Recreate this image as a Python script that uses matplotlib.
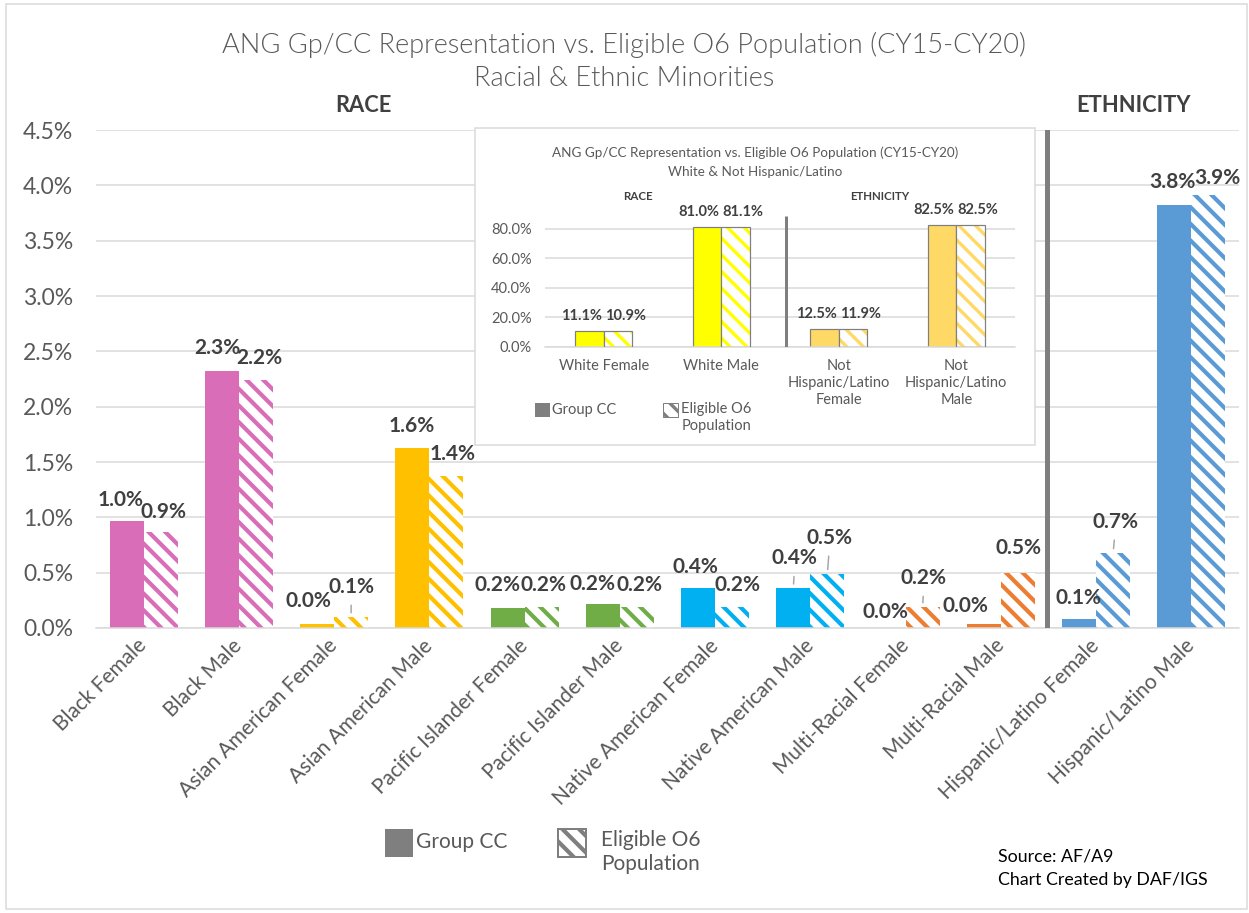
import numpy as np
import matplotlib.pyplot as plt
from matplotlib.patches import Rectangle

plt.rcParams['font.family'] = ['Lato', 'DejaVu Sans']
plt.rcParams['hatch.linewidth'] = 2.0

W, H = 1249, 913
DPI = 150
PT = 72 / DPI  # points per pixel


def fx(x):
    return x / W


def fy(y):
    return 1 - y / H


# --- dati ---
categories = ["Black Female", "Black Male", "Asian American Female",
              "Asian American Male", "Pacific Islander Female",
              "Pacific Islander Male", "Native American Female",
              "Native American Male", "Multi-Racial Female",
              "Multi-Racial Male", "Hispanic/Latino Female",
              "Hispanic/Latino Male"]
group_cc = [0.97, 2.32, 0.04, 1.63, 0.18, 0.22, 0.36, 0.36, 0.00, 0.04, 0.08, 3.82]
eligible = [0.87, 2.24, 0.10, 1.37, 0.19, 0.19, 0.19, 0.49, 0.19, 0.50, 0.68, 3.91]

inset_categories = ["White Female", "White Male",
                    "Not\nHispanic/Latino\nFemale", "Not\nHispanic/Latino\nMale"]
inset_group_cc = [11.1, 81.0, 12.5, 82.5]
inset_eligible = [10.9, 81.1, 11.9, 82.5]

# colori per coppia di categorie
palette = ["#D96DB7", "#FFC000", "#70AD47", "#00B0F0", "#ED7D31", "#5B9BD5"]
colors = [c for c in palette for _ in range(2)]
inset_colors = ["#FFFF00", "#FFFF00", "#FFD966", "#FFD966"]

# spostamento etichette (px) rispetto al centro della barra
cc_off = [(-6, -21), (-4, -23), (-9, -23), (-1, -22), (-10, -23), (-10, -20),
          (-3, -21), (1, -30), (-3, -16), (-18, -18), (-1, -21), (-2, -23)]
el_off = [(3, -20), (3, -22), (0, -30), (6, -22), (2, -22), (3, -22),
          (5, -22), (2, -36), (1, -29), (1, -25), (2, -31), (9, -17)]
cc_leader = [7]
el_leader = [2, 7, 8, 10]

GRID = "#D9D9D9"
TXT = "#595959"
LAB = "#404040"
HATCH = "\\\\\\"

fig = plt.figure(figsize=(W / DPI, H / DPI), dpi=DPI)

# --- grafico principale ---
ax = fig.add_axes([fx(96), fy(628), fx(1239) - fx(96), (628 - 130) / H])
x = np.arange(len(categories))
bw = 0.357
ax.bar(x - bw / 2, group_cc, bw, color=colors, linewidth=0, zorder=2)
ax.bar(x + bw / 2, eligible, bw, color="white", edgecolor=colors,
       hatch=HATCH, linewidth=0, zorder=2)

ax.set_xlim(-0.5, len(categories) - 0.5)
ax.set_ylim(0, 4.5)
yt = np.arange(0, 4.51, 0.5)
ax.set_yticks(yt)
ax.set_yticklabels([f"{v:.1f}%" for v in yt])
ax.yaxis.grid(True, color=GRID, linewidth=1.5 * PT, zorder=0)
ax.set_axisbelow(True)
for s in ["top", "right", "left"]:
    ax.spines[s].set_visible(False)
ax.spines["bottom"].set_color(GRID)
ax.spines["bottom"].set_linewidth(1.5 * PT)
ax.tick_params(axis="both", length=0, labelcolor=TXT)
ax.tick_params(axis="y", pad=11, labelsize=11)
ax.tick_params(axis="x", pad=7, labelsize=10)
ax.set_xticks(x)
ax.set_xticklabels(categories, rotation=45, ha="right", va="center",
                   rotation_mode="anchor")

# separatore razza / etnia
ax.axvline(9.48, color="#7F7F7F", linewidth=5 * PT, zorder=3)


def etichetta(a, xc, val, off, leader, size):
    dx, dy = off
    kw = dict(textcoords="offset points", ha="center", va="center",
              fontsize=size, fontweight="bold", color=LAB, zorder=4)
    if leader:
        kw["arrowprops"] = dict(arrowstyle="-", color="#A6A6A6", lw=1.5 * PT,
                                shrinkA=2, shrinkB=2, relpos=(0.5, 0))
    a.annotate(f"{val:.1f}%", xy=(xc, val), xytext=(dx * PT, -dy * PT), **kw)


for i in range(len(categories)):
    etichetta(ax, x[i] - bw / 2, group_cc[i], cc_off[i], i in cc_leader, 10)
    etichetta(ax, x[i] + bw / 2, eligible[i], el_off[i], i in el_leader, 10)

# --- riquadro interno ---
box = Rectangle((fx(475), fy(445)), (1035 - 475) / W, (445 - 128) / H,
                transform=fig.transFigure, facecolor="white",
                edgecolor=GRID, linewidth=1.5 * PT, zorder=1)
fig.add_artist(box)

axi = fig.add_axes([fx(545), fy(347), (1015 - 545) / W, (347 - 213.8) / H])
axi.set_zorder(2)
axi.patch.set_visible(False)
xi = np.arange(len(inset_categories))
bwi = 0.243
plt.rcParams['hatch.linewidth'] = 1.6
axi.bar(xi - bwi / 2, inset_group_cc, bwi, color=inset_colors,
        edgecolor="#7F7F7F", linewidth=1.2 * PT, zorder=2)
axi.bar(xi + bwi / 2, inset_eligible, bwi, color="white",
        edgecolor=inset_colors, hatch=HATCH, linewidth=0, zorder=2)
axi.bar(xi + bwi / 2, inset_eligible, bwi, fill=False,
        edgecolor="#7F7F7F", linewidth=1.2 * PT, zorder=3)
axi.set_xlim(-0.5, 3.5)
axi.set_ylim(0, 90)
yti = np.arange(0, 81, 20)
axi.set_yticks(yti)
axi.set_yticklabels([f"{v:.1f}%" for v in yti])
axi.yaxis.grid(True, color=GRID, linewidth=1.5 * PT, zorder=0)
axi.set_axisbelow(True)
for s in ["top", "right", "left"]:
    axi.spines[s].set_visible(False)
axi.spines["bottom"].set_color(GRID)
axi.spines["bottom"].set_linewidth(1.5 * PT)
axi.tick_params(axis="both", length=0, labelcolor=TXT, labelsize=7)
axi.tick_params(axis="y", pad=6.5)
axi.tick_params(axis="x", pad=6)
axi.set_xticks(xi)
axi.set_xticklabels(inset_categories, linespacing=1.25)
axi.plot([1.553, 1.553], [0, 88.5], color="#7F7F7F", linewidth=3 * PT,
         solid_capstyle="butt", zorder=3)

for i in range(len(inset_categories)):
    etichetta(axi, xi[i] - bwi / 2, inset_group_cc[i], (-8, -15), False, 7)
    etichetta(axi, xi[i] + bwi / 2, inset_eligible[i], (7, -15), False, 7)

fig.text(fx(755), fy(153), "ANG Gp/CC Representation vs. Eligible O6 Population (CY15-CY20)",
         ha="center", va="center", fontsize=6.5, color=TXT)
fig.text(fx(755), fy(172), "White & Not Hispanic/Latino",
         ha="center", va="center", fontsize=6.5, color=TXT)
fig.text(fx(638), fy(197), "RACE", ha="center", va="center",
         fontsize=5.5, fontweight="bold", color=LAB)
fig.text(fx(880), fy(197), "ETHNICITY", ha="center", va="center",
         fontsize=5.5, fontweight="bold", color=LAB)

# legenda del riquadro
fig.add_artist(Rectangle((fx(535), fy(417)), 15 / W, 14 / H,
                         transform=fig.transFigure, facecolor="#7F7F7F",
                         linewidth=0, zorder=3))
fig.text(fx(552), fy(410), "Group CC", ha="left", va="center",
         fontsize=7, color=TXT)
fig.add_artist(Rectangle((fx(663), fy(417)), 15 / W, 14 / H,
                         transform=fig.transFigure, facecolor="white",
                         edgecolor="#7F7F7F", hatch=HATCH, linewidth=1 * PT,
                         zorder=3))
fig.text(fx(681), fy(402), "Eligible O6\nPopulation", ha="left", va="top",
         multialignment="center", fontsize=7, color=TXT, linespacing=1.25)

# --- titolo ---
fig.text(0.5, fy(45), "ANG Gp/CC Representation vs. Eligible O6 Population (CY15-CY20)",
         ha="center", va="center", fontsize=13, fontweight=300, color=TXT)
fig.text(0.5, fy(78), "Racial & Ethnic Minorities",
         ha="center", va="center", fontsize=13, fontweight=300, color=TXT)
fig.text(fx(363), fy(105), "RACE", ha="center", va="center",
         fontsize=10.5, fontweight="bold", color=LAB)
fig.text(fx(1133), fy(105), "ETHNICITY", ha="center", va="center",
         fontsize=10.5, fontweight="bold", color=LAB)

# --- legenda principale ---
plt.rcParams['hatch.linewidth'] = 2.0
fig.add_artist(Rectangle((fx(385), fy(857)), 28 / W, 28 / H,
                         transform=fig.transFigure, facecolor="#7F7F7F",
                         linewidth=0, zorder=3))
fig.text(fx(416), fy(842), "Group CC", ha="left", va="center",
         fontsize=10, color=TXT)
fig.add_artist(Rectangle((fx(558), fy(857)), 28 / W, 28 / H,
                         transform=fig.transFigure, facecolor="white",
                         edgecolor="#7F7F7F", hatch=HATCH, linewidth=2 * PT,
                         zorder=3))
fig.text(fx(601), fy(830), "Eligible O6\nPopulation", ha="left", va="top",
         multialignment="center", fontsize=10, color=TXT, linespacing=1.25)

# fonte
fig.text(fx(998), fy(857), "Source: AF/A9", ha="left", va="center",
         fontsize=8.5, color="black")
fig.text(fx(998), fy(880), "Chart Created by DAF/IGS", ha="left", va="center",
         fontsize=8.5, color="black")

# cornice esterna
fig.add_artist(Rectangle((fx(6), fy(909)), (1247 - 6) / W, (909 - 4) / H,
                         transform=fig.transFigure, fill=False,
                         edgecolor=GRID, linewidth=1.5 * PT, zorder=0))

fig.savefig("out.png", dpi=DPI)
